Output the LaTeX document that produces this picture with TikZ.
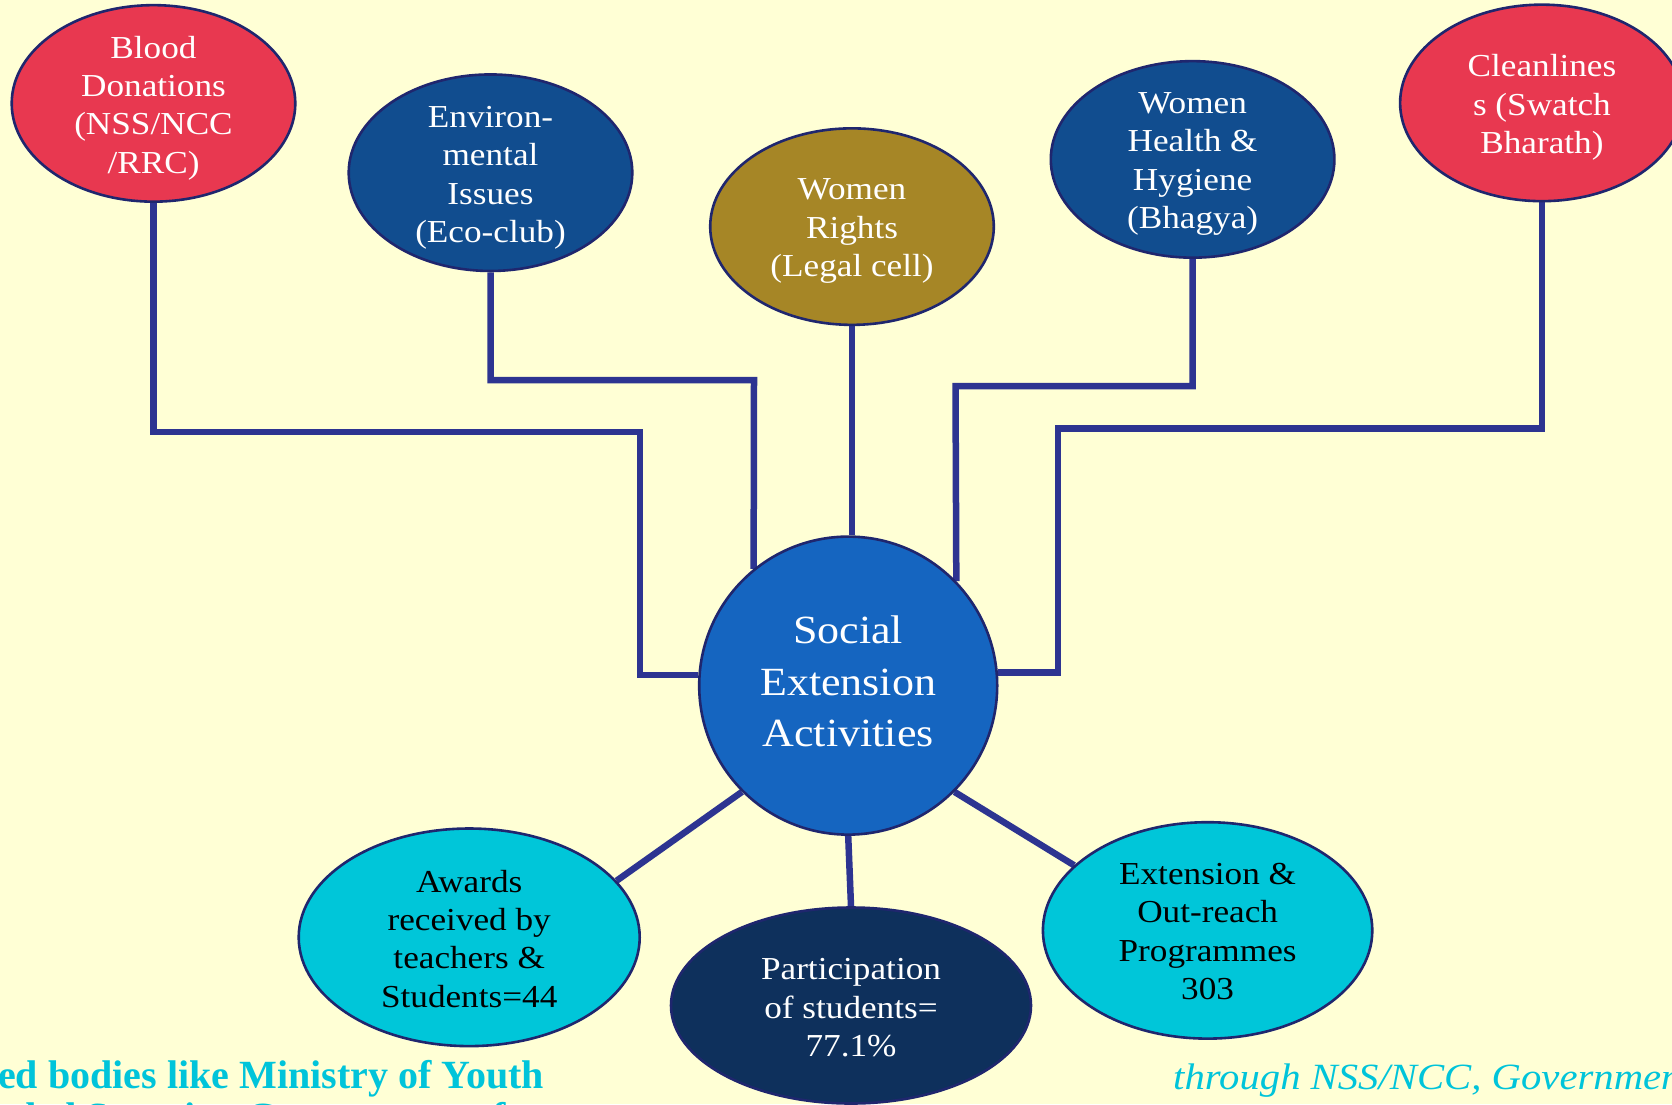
\documentclass[tikz,border=0pt]{standalone}
\usepackage{fontspec}
\setmainfont{Liberation Serif}[FakeStretch=1.1]
\newfontfamily\plainserif{Liberation Serif}
\usetikzlibrary{shapes.geometric}
\definecolor{bgc}{HTML}{FFFFD5}
\definecolor{redc}{HTML}{E83850}
\definecolor{bluec}{HTML}{114D8F}
\definecolor{goldc}{HTML}{A68626}
\definecolor{centc}{HTML}{1565C0}
\definecolor{cyanc}{HTML}{00C6D9}
\definecolor{navyc}{HTML}{0E305C}
\definecolor{linec}{HTML}{2D3491}
\definecolor{bordc}{HTML}{1F266E}
\definecolor{textc}{HTML}{00C4DA}
\pgfdeclarelayer{bglayer}
\pgfdeclarelayer{linelayer}
\pgfsetlayers{bglayer,linelayer,main}
\tikzset{
  oval/.style={ellipse, draw=bordc, line width=2.6pt, inner sep=0pt},
  topoval/.style={oval, minimum width=283.6pt, minimum height=196.5pt},
  conn/.style={draw=linec, line width=6.5pt},
  ovaltext/.style={align=center, inner sep=0pt, font=\fontsize{32}{38.4}\selectfont},
  bottomtext/.style={inner sep=0pt, text=textc},
}
\begin{document}
\begin{tikzpicture}[x=1pt,y=-1pt]
\begin{pgfonlayer}{bglayer}
\fill[bgc] (0,0) rectangle (1672,1104);
\end{pgfonlayer}
\useasboundingbox (0,0) rectangle (1672,1104);

% shapes
\node[topoval, fill=redc] (blood) at (153.5,103.4) {};
\node[topoval, fill=bluec] (env) at (490.5,172.7) {};
\node[topoval, fill=goldc] (rights) at (852,226.6) {};
\node[topoval, fill=bluec] (health) at (1192.6,159.4) {};
\node[topoval, fill=redc] (clean) at (1541.9,102.9) {};
\node[circle, draw=bordc, line width=2.6pt, fill=centc, minimum size=298pt, inner sep=0pt]
  (c) at (848.2,685.6) {};
\node[oval, fill=cyanc, minimum width=341pt, minimum height=217.6pt] (awards) at (469.2,937.3) {};
\node[oval, fill=navyc, minimum width=360pt, minimum height=196pt] (part) at (851,1005.5) {};
\node[oval, fill=cyanc, minimum width=329.4pt, minimum height=216.4pt] (ext) at (1207.6,930.4) {};

% texts
\node[ovaltext, text=white] (bloodt) at ([yshift=-4.5pt]blood.center) {Blood\\Donations\\(NSS/NCC\\/RRC)};
\node[ovaltext, text=white] (envt) at ([yshift=-5pt]env.center) {Environ-\\mental\\Issues\\(Eco-club)};
\node[ovaltext, text=white] (rightst) at ([yshift=-4.5pt]rights.center) {Women\\Rights\\(Legal cell)};
\node[ovaltext, text=white] (healtht) at ([yshift=-4.5pt]health.center) {Women\\Health \&\\Hygiene\\(Bhagya)};
\node[ovaltext, text=white] (cleant) at ([yshift=-4.5pt]clean.center) {Cleanlines\\s (Swatch\\Bharath)};
\node[align=center, inner sep=0pt, text=white, font=\fontsize{40}{51.7}\selectfont]
  (ct) at ([yshift=4pt]c.center) {Social\\Extension\\Activities};
\node[ovaltext, text=black] (awardst) at ([yshift=-1.5pt]awards.center) {Awards\\received by\\teachers \&\\Students=44};
\node[ovaltext, text=white] (partt) at ([yshift=-2.5pt]part.center) {Participation\\of students=\\77.1\%};
\node[ovaltext, text=black] (extt) at ([yshift=-1pt]ext.center) {Extension \&\\Out-reach\\Programmes\\303};

% connectors
\coordinate (b1) at (639.8,431.8);
\coordinate (e1) at (754,380);
\coordinate (h1) at (955.5,386);
\coordinate (k1) at (1057.8,428.7);
\begin{pgfonlayer}{linelayer}
\draw[conn] (blood.south) |- (b1) |- (c.176);
\draw[conn] (env.south) |- (e1) -- (c.129);
\draw[conn] (rights.south) -- (rights.south |- c.north);
\draw[conn] (health.south) |- (h1) -- (c.44);
\draw[conn] (clean.south) |- (k1) |- (c.5);
\draw[conn] (c.225) -- (awards.21);
\draw[conn] (c.270) -- (part.90);
\draw[conn] (c.315) -- (ext.154);
\end{pgfonlayer}

% bottom texts
\node[bottomtext, anchor=base east, font=\plainserif\bfseries\fontsize{40}{48}\selectfont]
  (t1) at (544,1088) {ed bodies like Ministry of Youth};
\node[bottomtext, anchor=base west, font=\plainserif\bfseries\fontsize{40}{48}\selectfont]
  (t2) at (-8,1130) {nded Security, Government of};
\node[bottomtext, anchor=base west, font=\itshape\fontsize{37}{44}\selectfont]
  (t3) at (1173,1089) {through NSS/NCC, Government};
\end{tikzpicture}
\end{document}
